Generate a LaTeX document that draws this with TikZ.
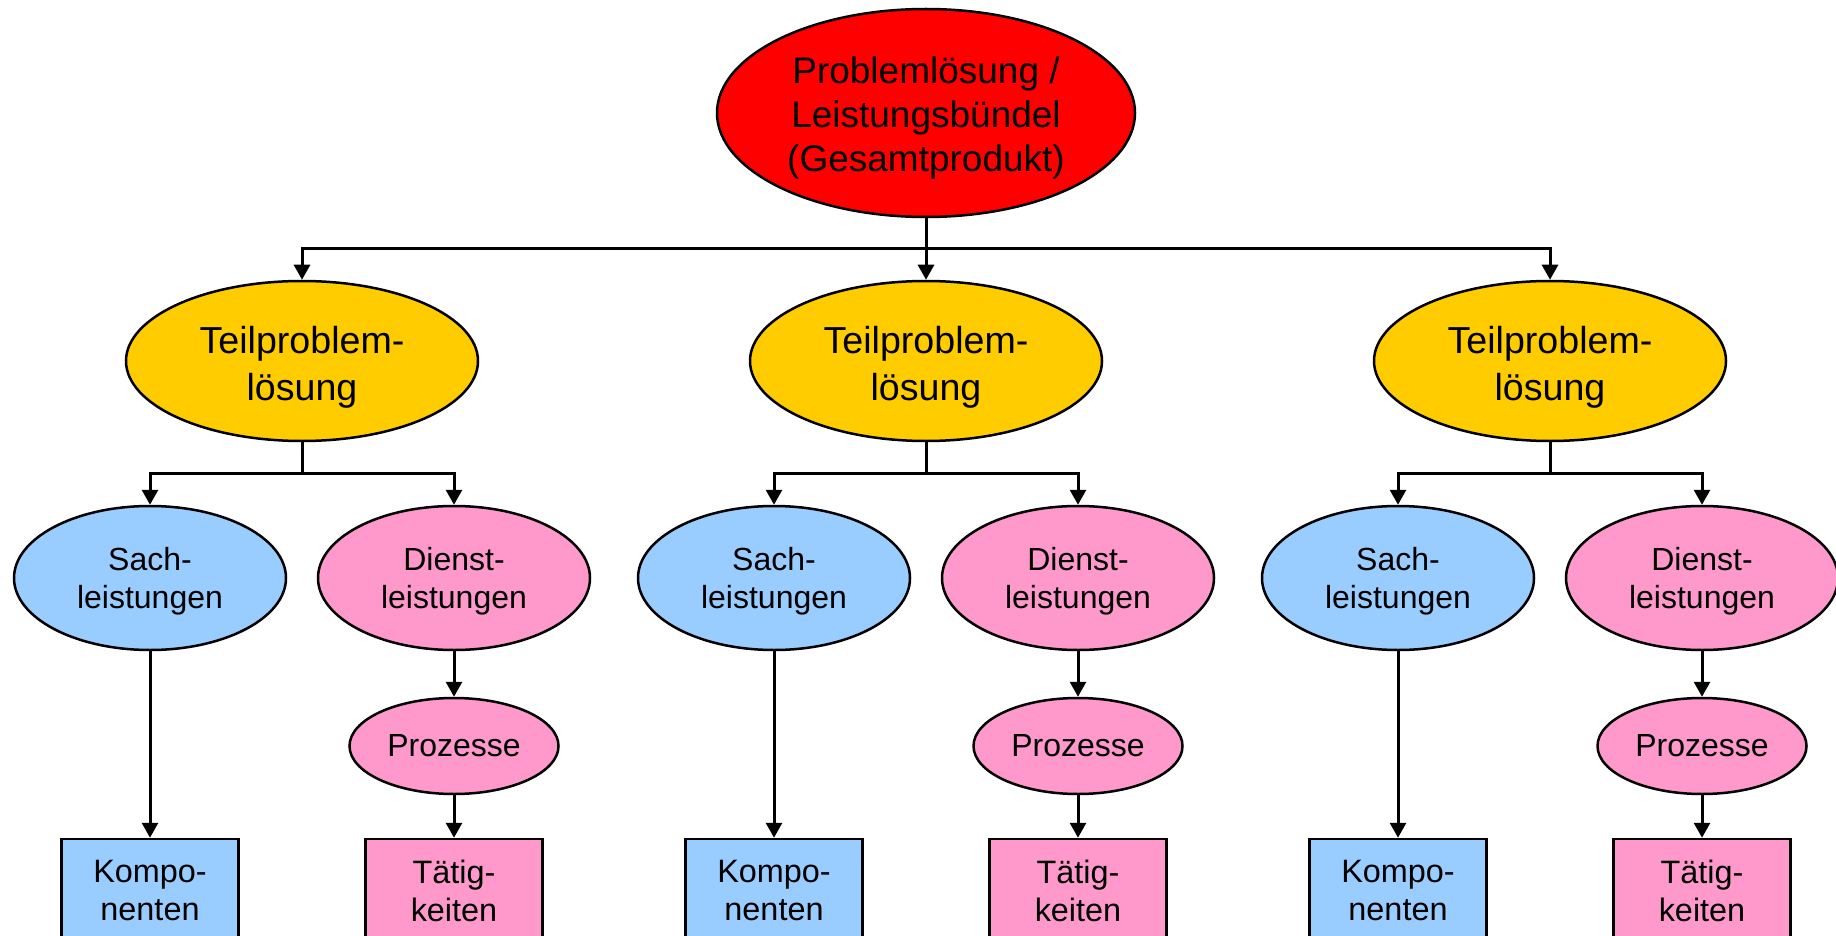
\documentclass[tikz,border=0pt]{standalone}
\usepackage{fontspec}
\setmainfont{Liberation Sans}
\usetikzlibrary{shapes.geometric,arrows.meta}
\definecolor{rootred}{HTML}{FF0000}
\definecolor{partgold}{HTML}{FFCC00}
\definecolor{goodsblue}{HTML}{99CCFF}
\definecolor{servpink}{HTML}{FF99CC}
% invisible strut that lowers the text block inside a node
\newcommand{\toppad}[1]{\rule{0pt}{#1}}
\begin{document}
\begin{tikzpicture}[x=0.5pt,y=-0.5pt,
  every node/.style={draw=black,line width=1.25pt,inner sep=0pt,align=center,text=black},
  oval/.style={ellipse},
  rootnode/.style={oval,fill=rootred,minimum width=209pt,minimum height=104pt,
    font=\fontsize{18.5}{22}\selectfont},
  partnode/.style={oval,fill=partgold,minimum width=176pt,minimum height=80pt,
    font=\fontsize{18.8}{23.3}\selectfont},
  goodsnode/.style={oval,fill=goodsblue,minimum width=136pt,minimum height=72pt,
    font=\fontsize{16}{19.2}\selectfont},
  servnode/.style={goodsnode,fill=servpink},
  procnode/.style={oval,fill=servpink,minimum width=104.5pt,minimum height=48pt,font=\fontsize{16}{19.2}\selectfont},
  leafbox/.style={rectangle,minimum width=88.5pt,minimum height=52pt,font=\fontsize{16.2}{19}\selectfont},
  conn/.style={draw=black,line width=1.5pt,-{Triangle[length=7.5pt,width=8pt]}},
  link/.style={draw=black,line width=1.5pt}
]
\clip (0,0) rectangle (1836,936);

% root
\node[rootnode] (root) at (926,113) {\toppad{18pt}Problemlösung /\\Leistungsbündel\\(Gesamtprodukt)};
\coordinate (bus) at (926,249);

% three sub-solutions, each with goods and services branch
\foreach \i/\cx in {1/302,2/926,3/1550}{
  \node[partnode] (t\i) at (\cx,361) {\toppad{20pt}Teilproblem-\\lösung};
  \coordinate (b\i) at (\cx,473);
  \node[goodsnode] (s\i) at (\cx-152,578) {\toppad{14.8pt}Sach-\\leistungen};
  \node[servnode] (d\i) at (\cx+152,578) {\toppad{14.8pt}Dienst-\\leistungen};
  \node[procnode] (p\i) at (\cx+152,746) {Prozesse};
  \node[leafbox,fill=goodsblue] (k\i) at (\cx-152,891) {Kompo-\\nenten};
  \node[leafbox,fill=servpink] (a\i) at (\cx+152,891) {Tätig-\\keiten};
  \draw[link] (t\i.south) -- (b\i);
  \draw[conn] (b\i) -| (s\i.north);
  \draw[conn] (b\i) -| (d\i.north);
  \draw[conn] (s\i.south) -- (k\i.north);
  \draw[conn] (d\i.south) -- (p\i.north);
  \draw[conn] (p\i.south) -- (a\i.north);
}

% root connectors
\draw[conn] (root.south) -- (t2.north);
\draw[conn] (bus) -| (t1.north);
\draw[conn] (bus) -| (t3.north);
\end{tikzpicture}
\end{document}
